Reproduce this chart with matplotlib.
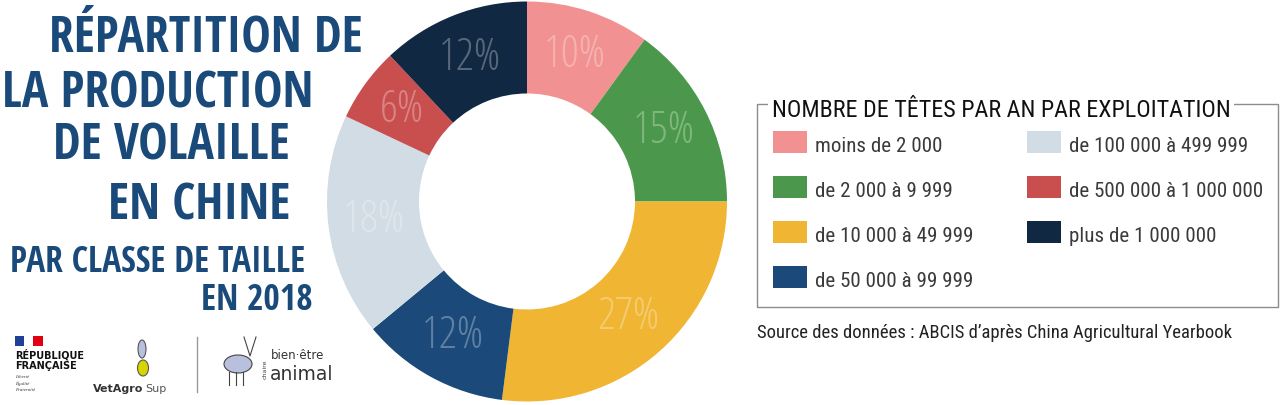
import matplotlib
matplotlib.use("Agg")
import matplotlib.pyplot as plt
from matplotlib import font_manager
from matplotlib.font_manager import FontProperties
from matplotlib.patches import Rectangle, Ellipse, Arc

# data (share of poultry production, %)
classes = ["moins de 2 000", "de 2 000 à 9 999", "de 10 000 à 49 999",
           "de 50 000 à 99 999", "de 100 000 à 499 999",
           "de 500 000 à 1 000 000", "plus de 1 000 000"]
shares = [10, 15, 27, 12, 18, 6, 12]
colors = ["#f29191", "#4b974b", "#f0b533", "#1b4a7a",
          "#d1dce5", "#c94f4f", "#112842"]

title_lines = ["RÉPARTITION DE", "LA PRODUCTION", "DE VOLAILLE", "EN CHINE"]
subtitle_lines = ["PAR CLASSE DE TAILLE", "EN 2018"]
legend_title = "NOMBRE DE TÊTES PAR AN PAR EXPLOITATION"
source = "Source des données : ABCIS d’après China Agricultural Yearbook"

NAVY = "#1a4a7a"
FAMILIES = ("DejaVu Sans", "Liberation Sans", "Noto Sans", "Roboto",
            "Open Sans", "Lato", "Inter")


def weight_of(f):
    w = f.weight
    if isinstance(w, str):
        w = font_manager.weight_dict.get(w, 400)
    return w


def pick(sample, wmin, wmax):
    # narrowest plain sans face (width / cap height) that has all glyphs
    needed = set("ÉÊéèàçô’·%" + sample)
    best = None
    for f in font_manager.fontManager.ttflist:
        if not f.name.startswith(FAMILIES):
            continue
        if any(k in f.name for k in ("Mono", "CJK", "Math", "Symbol")):
            continue
        if f.style != "normal":
            continue
        if not wmin <= weight_of(f) <= wmax:
            continue
        try:
            ft = font_manager.get_font(f.fname)
            if any(ft.get_char_index(ord(c)) == 0 for c in needed if c != " "):
                continue
            ft.set_size(40, 72)
            ft.set_text(sample)
            width = ft.get_width_height()[0]
            ft.set_text("H")
            cap = ft.get_width_height()[1]
        except Exception:
            continue
        ratio = width / cap
        if best is None or ratio < best[0]:
            best = (ratio, f.fname)
    if best is None:
        return None
    return FontProperties(fname=best[1])


FP_BOLD = pick("RÉPARTITION DE", 600, 1000) or FontProperties(family="DejaVu Sans", weight="bold")
FP_REG = pick("de 500 000 à 1 000 000", 350, 500) or FontProperties(family="DejaVu Sans")
FP_LIGHT = pick("12%", 200, 349) or FP_REG

fig = plt.figure(figsize=(12.8, 4.05), dpi=100)
bg = fig.add_axes([0, 0, 1, 1])
bg.set_xlim(0, 1280)
bg.set_ylim(405, 0)
bg.axis("off")
renderer = fig.canvas.get_renderer()


def fit(txt, width):
    # scale font size so the text spans `width` pixels
    w = txt.get_window_extent(renderer).width
    txt.set_fontsize(txt.get_fontsize() * width / w)
    return txt.get_fontsize()


# title, right aligned around the donut
title_right = [363, 313, 290, 290]
title_base = [52, 107, 160, 220]
tt = [bg.text(x, y, s, ha="right", va="baseline", fontproperties=FP_BOLD,
              fontsize=36, color=NAVY)
      for s, x, y in zip(title_lines, title_right, title_base)]
size = fit(tt[0], 313)
for t in tt:
    t.set_fontsize(size)

sub_right = [305, 313]
sub_base = [272, 310]
st = [bg.text(x, y, s, ha="right", va="baseline", fontproperties=FP_BOLD,
              fontsize=24, color=NAVY)
      for s, x, y in zip(subtitle_lines, sub_right, sub_base)]
size = fit(st[0], 295)
for t in st:
    t.set_fontsize(size)

# donut
cx, cy, r = 527, 201.5, 200
pax = fig.add_axes([(cx - r) / 1280, (405 - cy - r) / 405, 2 * r / 1280, 2 * r / 405])
wedges, texts, pcts = pax.pie(
    shares, colors=colors, startangle=90, counterclock=False,
    wedgeprops=dict(width=0.46, linewidth=0),
    autopct=lambda p: f"{p:.0f}%", pctdistance=0.77,
    textprops=dict(color="white", alpha=0.3, fontproperties=FP_LIGHT, fontsize=30))
pax.set_xlim(-1, 1)
pax.set_ylim(-1, 1)
size = fit(pcts[0], 62)
for t in pcts:
    t.set_fontsize(size)

# legend box
bg.add_patch(Rectangle((757, 104), 1278 - 757, 307 - 104, fill=False,
                       ec="#8c8c8c", lw=1))
lt = bg.text(772, 117, legend_title, ha="left", va="baseline",
             fontproperties=FP_REG, fontsize=20, color="#111111",
             bbox=dict(fc="white", ec="none", pad=3))
fit(lt, 458)

col_x = [773, 1027]
row_y = [142, 187, 232, 277]
lab_txt = []
for i, (lab, col) in enumerate(zip(classes, colors)):
    x = col_x[i // 4]
    y = row_y[i % 4]
    bg.add_patch(Rectangle((x, y - 11), 34, 22, fc=col, ec="none"))
    lab_txt.append(bg.text(x + 42, y + 10, lab, ha="left", va="baseline",
                           fontproperties=FP_REG, fontsize=16, color="#3a3a3a"))
size = fit(lab_txt[5], 195)
for t in lab_txt:
    t.set_fontsize(size)

src = bg.text(757, 338, source, ha="left", va="baseline",
              fontproperties=FP_REG, fontsize=16, color="#222222")
fit(src, 475)

# logos (rough)
bg.add_patch(Rectangle((15, 336), 9, 10, fc="#1f3f99", ec="none"))
bg.add_patch(Rectangle((33, 336), 10, 10, fc="#e1000f", ec="none"))
bg.text(15, 359, "RÉPUBLIQUE", fontsize=7, weight="bold", color="#111111",
        va="baseline")
bg.text(15, 369, "FRANÇAISE", fontsize=7, weight="bold", color="#111111",
        va="baseline")
for k, w in enumerate(["Liberté", "Égalité", "Fraternité"]):
    bg.text(15, 378 + 6.5 * k, w, fontsize=3.5, style="italic",
            color="#333333", va="baseline", family="Liberation Serif")

bg.add_patch(Ellipse((142, 349), 8, 18, fc="#b9c0dd", ec="#555555", lw=0.8))
bg.add_patch(Ellipse((143, 368), 11, 16, fc="#d8d400", ec="#555555", lw=0.8))
bg.text(143, 392, "VetAgro", fontsize=8, color="#333333", ha="right",
        va="baseline", weight="bold")
bg.text(145, 392, "Sup", fontsize=8, color="#555555", ha="left", va="baseline")

bg.plot([197, 197], [337, 392], color="#9a9a9a", lw=1)

bg.add_patch(Arc((244, 402), 58, 44, theta1=20, theta2=160,
                 color="#c8d400", lw=2.5))
bg.add_patch(Ellipse((238, 364), 28, 18, fc="#b9c0dd", ec="#444444", lw=0.8))
bg.plot([244, 250, 256], [337, 356, 337], color="#444444", lw=0.8)
for xl in (229, 236, 243):
    bg.plot([xl, xl], [372, 385], color="#444444", lw=0.8)
bg.text(265, 379, "chaire", rotation=90, fontsize=4.5, color="#444444",
        ha="center", va="bottom")
bg.text(271, 359, "bien·être", fontsize=8.5, color="#333333", va="baseline")
bg.text(270, 380, "animal", fontsize=13.5, color="#333333", va="baseline")

fig.savefig("out.png", dpi=100)
